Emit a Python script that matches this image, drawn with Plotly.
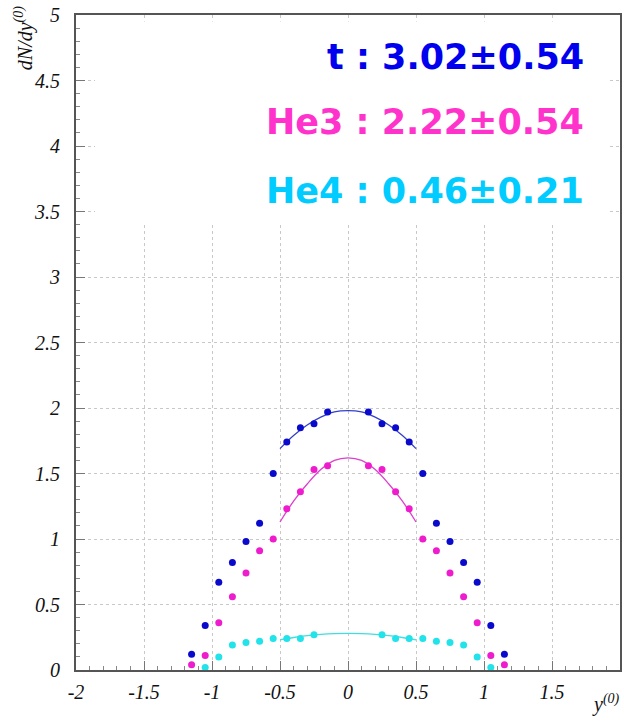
import plotly.graph_objects as go

# ---- data ----
x_t = [-1.15, -1.05, -0.95, -0.85, -0.75, -0.65, -0.55, -0.45, -0.35, -0.25, -0.15,
       0.15, 0.25, 0.35, 0.45, 0.55, 0.65, 0.75, 0.85, 0.95, 1.05, 1.15]
y_t = [0.12, 0.34, 0.67, 0.82, 0.98, 1.12, 1.50, 1.74, 1.85, 1.88, 1.97,
       1.97, 1.88, 1.85, 1.74, 1.50, 1.12, 0.98, 0.82, 0.67, 0.34, 0.12]

x_he3 = [-1.15, -1.05, -0.95, -0.85, -0.75, -0.65, -0.55, -0.45, -0.35, -0.25, -0.15,
         0.15, 0.25, 0.35, 0.45, 0.55, 0.65, 0.75, 0.85, 0.95, 1.05, 1.15]
y_he3 = [0.04, 0.11, 0.36, 0.56, 0.74, 0.91, 1.00, 1.23, 1.36, 1.53, 1.56,
         1.56, 1.53, 1.36, 1.23, 1.00, 0.91, 0.74, 0.56, 0.36, 0.11, 0.04]

x_he4 = [-1.05, -0.95, -0.85, -0.75, -0.65, -0.55, -0.45, -0.35, -0.25,
         0.25, 0.35, 0.45, 0.55, 0.65, 0.75, 0.85, 0.95, 1.05]
y_he4 = [0.02, 0.10, 0.19, 0.21, 0.22, 0.24, 0.24, 0.24, 0.27,
         0.27, 0.24, 0.24, 0.24, 0.22, 0.21, 0.19, 0.10, 0.02]

# fitted curves
x_fit = [-0.5, -0.4, -0.3, -0.2, -0.1, 0.0, 0.1, 0.2, 0.3, 0.4, 0.5]
fit_t = [1.69, 1.79, 1.87, 1.93, 1.97, 1.98, 1.97, 1.93, 1.87, 1.79, 1.69]
fit_he3 = [1.13, 1.29, 1.42, 1.53, 1.60, 1.62, 1.60, 1.53, 1.42, 1.29, 1.13]
fit_he4 = [0.23, 0.248, 0.262, 0.272, 0.278, 0.28, 0.278, 0.272, 0.262, 0.248, 0.23]

labels = ["t : 3.02\u00b10.54", "He3 : 2.22\u00b10.54", "He4 : 0.46\u00b10.21"]

x_tickvals = [-2, -1.5, -1, -0.5, 0, 0.5, 1, 1.5, 2]
x_ticktext = ["-2", "-1.5", "-1", "-0.5", "0", "0.5", "1", "1.5", "2"]
y_tickvals = [0, 0.5, 1, 1.5, 2, 2.5, 3, 3.5, 4, 4.5, 5]
y_ticktext = ["0", "0.5", "1", "1.5", "2", "2.5", "3", "3.5", "4", "4.5", "5"]

# ---- styles ----
c_t, c_he3, c_he4 = "#0a0acc", "#ee1ccc", "#22e2ea"
c_t_fit, c_he3_fit, c_he4_fit = "#3340cc", "#dd40cc", "#40dede"
c_t_txt, c_he3_txt, c_he4_txt = "#0000ee", "#ff33cc", "#00ccff"

fig = go.Figure()
for xs, ys, col in [(x_fit, fit_t, c_t_fit), (x_fit, fit_he3, c_he3_fit), (x_fit, fit_he4, c_he4_fit)]:
    fig.add_trace(go.Scatter(x=xs, y=ys, mode="lines", line=dict(color=col, width=1.3, shape="spline"),
                             showlegend=False, hoverinfo="skip"))
for xs, ys, col in [(x_t, y_t, c_t), (x_he3, y_he3, c_he3), (x_he4, y_he4, c_he4)]:
    fig.add_trace(go.Scatter(x=xs, y=ys, mode="markers", marker=dict(color=col, size=7, line=dict(width=0)),
                             showlegend=False))

tickfont = dict(family="Liberation Serif", size=20, color="#111111", style="italic")
axis_common = dict(showline=True, linecolor="#555555", linewidth=2, mirror=True,
                   ticks="inside", ticklen=9, tickcolor="#777777", tickwidth=1,
                   showgrid=True, gridcolor="#c8c8c8", gridwidth=1, griddash="dot",
                   zeroline=False, tickfont=tickfont,
                   minor=dict(dtick=0.1, ticks="inside", ticklen=4, tickcolor="#888888", showgrid=False))

fig.update_xaxes(range=[-2, 2], tickmode="array", tickvals=x_tickvals, ticktext=x_ticktext,
                 ticklabelstandoff=3, **axis_common)
fig.update_yaxes(range=[0, 5], tickmode="array", tickvals=y_tickvals, ticktext=y_ticktext,
                 ticklabelstandoff=10, **axis_common)

# white box behind the result labels (hides grid there)
fig.add_shape(type="rect", xref="x", yref="y", x0=-1.86, x1=1.91, y0=3.42, y1=4.95,
              fillcolor="white", line=dict(width=0), layer="above")

for lab, yv, col in zip(labels, [4.68, 4.18, 3.66], [c_t_txt, c_he3_txt, c_he4_txt]):
    fig.add_annotation(x=1.75, y=yv, xref="x", yref="y", text=lab, showarrow=False,
                       xanchor="right", yanchor="middle",
                       font=dict(family="DejaVu Sans", size=35, color=col, weight="bold"))

fig.add_annotation(x=-0.095, y=1.017, xref="paper", yref="paper", text="dN/dy<sup>(0)</sup>",
                   textangle=-90, showarrow=False, xanchor="center", yanchor="top",
                   font=dict(family="Liberation Serif", size=20, color="#111111", style="italic"))
fig.add_annotation(x=0.975, y=-0.073, xref="paper", yref="paper", text="y<sup>(0)</sup>",
                   showarrow=False, xanchor="center", yanchor="bottom",
                   font=dict(family="Liberation Serif", size=20, color="#111111", style="italic"))

fig.update_layout(width=624, height=721, margin=dict(l=76, r=2, t=15, b=51),
                  plot_bgcolor="white", paper_bgcolor="white", showlegend=False)

fig.write_html("out.html")
